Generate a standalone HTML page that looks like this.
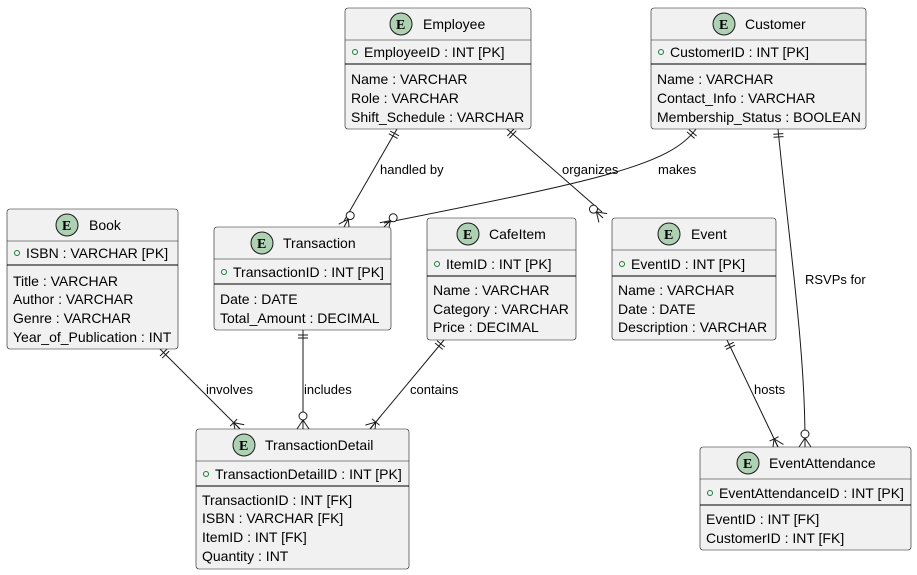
<!DOCTYPE html>
<html><head><meta charset="utf-8"><style>
body{margin:0;background:#fff}
svg{display:block}
text{font-family:"Liberation Sans",sans-serif;font-size:14px;fill:#000}
.box{fill:#F1F1F1;stroke:#181818;stroke-width:0.6}
.hl{stroke:#181818;stroke-width:0.5}
.sep{stroke:#000;stroke-width:1}
.ec{fill:#ADD1B2;stroke:#181818;stroke-width:1}
.et{font-family:"Liberation Serif",serif;font-weight:bold;font-size:14px}
.pk{fill:none;stroke:#1a7a3a;stroke-width:1}
.e{fill:none;stroke:#181818;stroke-width:1}
</style></head><body>
<svg id="s" width="917" height="575" viewBox="0 0 917 575" xmlns="http://www.w3.org/2000/svg">
<g id="edges">
<path class="e" d="M397,129 L344,221"/>
<path class="e" d="M507,129 L602,212"/>
<path class="e" d="M696,129 C670,165 600,180 384,223"/>
<path class="e" d="M778,129 C790,250 805,350 805,441"/>
<path class="e" d="M160,349 L240,429"/>
<path class="e" d="M303,330 L303,429"/>
<path class="e" d="M444,340 L370,429"/>
<path class="e" d="M727,340 L778,447"/>
</g>
<g id="marks"></g>
<text x="380" y="174" style="font-size:13px">handled by</text>
<text x="562" y="174" style="font-size:13px">organizes</text>
<text x="658" y="174" style="font-size:13px">makes</text>
<text x="805" y="284" style="font-size:13px">RSVPs for</text>
<text x="206" y="394" style="font-size:13px">involves</text>
<text x="304" y="394" style="font-size:13px">includes</text>
<text x="410" y="394" style="font-size:13px">contains</text>
<text x="754" y="394" style="font-size:13px">hosts</text>

<rect class="box" x="345" y="8" width="186" height="121" rx="3"/>
<line class="hl" x1="345" y1="40" x2="531" y2="40"/>
<circle class="ec" cx="401" cy="24" r="11"/><text class="et" x="396" y="29">E</text>
<text x="423" y="29">Employee</text>
<circle class="pk" cx="355" cy="52" r="2.5"/><text x="364" y="57">EmployeeID : INT [PK]</text>
<line class="sep" x1="345" y1="64" x2="531" y2="64"/>
<text x="351" y="84">Name : VARCHAR</text>
<text x="351" y="103">Role : VARCHAR</text>
<text x="351" y="122">Shift_Schedule : VARCHAR</text>

<rect class="box" x="651" y="8" width="215" height="121" rx="3"/>
<line class="hl" x1="651" y1="40" x2="866" y2="40"/>
<circle class="ec" cx="724" cy="24" r="11"/><text class="et" x="719" y="29">E</text>
<text x="745" y="29">Customer</text>
<circle class="pk" cx="661" cy="52" r="2.5"/><text x="670" y="57">CustomerID : INT [PK]</text>
<line class="sep" x1="651" y1="64" x2="866" y2="64"/>
<text x="657" y="84">Name : VARCHAR</text>
<text x="657" y="103">Contact_Info : VARCHAR</text>
<text x="657" y="122">Membership_Status : BOOLEAN</text>

<rect class="box" x="7" y="209" width="171" height="140" rx="3"/>
<line class="hl" x1="7" y1="241" x2="178" y2="241"/>
<circle class="ec" cx="67" cy="225" r="11"/><text class="et" x="62" y="230">E</text>
<text x="89" y="230">Book</text>
<circle class="pk" cx="17" cy="253" r="2.5"/><text x="26" y="258">ISBN : VARCHAR [PK]</text>
<line class="sep" x1="7" y1="265" x2="178" y2="265"/>
<text x="13" y="286">Title : VARCHAR</text>
<text x="13" y="304">Author : VARCHAR</text>
<text x="13" y="323">Genre : VARCHAR</text>
<text x="13" y="342">Year_of_Publication : INT</text>

<rect class="box" x="214" y="227" width="177" height="103" rx="3"/>
<line class="hl" x1="214" y1="259" x2="391" y2="259"/>
<circle class="ec" cx="262" cy="243" r="11"/><text class="et" x="257" y="248">E</text>
<text x="283" y="248">Transaction</text>
<circle class="pk" cx="224" cy="272" r="2.5"/><text x="233" y="277">TransactionID : INT [PK]</text>
<line class="sep" x1="214" y1="284" x2="391" y2="284"/>
<text x="220" y="304">Date : DATE</text>
<text x="220" y="323">Total_Amount : DECIMAL</text>

<rect class="box" x="427" y="218" width="149" height="122" rx="3"/>
<line class="hl" x1="427" y1="250" x2="576" y2="250"/>
<circle class="ec" cx="468" cy="234" r="11"/><text class="et" x="463" y="239">E</text>
<text x="489" y="239">CafeItem</text>
<circle class="pk" cx="437" cy="264" r="2.5"/><text x="446" y="269">ItemID : INT [PK]</text>
<line class="sep" x1="427" y1="276" x2="576" y2="276"/>
<text x="433" y="295">Name : VARCHAR</text>
<text x="433" y="314">Category : VARCHAR</text>
<text x="433" y="332">Price : DECIMAL</text>

<rect class="box" x="612" y="218" width="164" height="122" rx="3"/>
<line class="hl" x1="612" y1="250" x2="776" y2="250"/>
<circle class="ec" cx="669" cy="234" r="11"/><text class="et" x="664" y="239">E</text>
<text x="691" y="239">Event</text>
<circle class="pk" cx="622" cy="264" r="2.5"/><text x="631" y="269">EventID : INT [PK]</text>
<line class="sep" x1="612" y1="276" x2="776" y2="276"/>
<text x="618" y="295">Name : VARCHAR</text>
<text x="618" y="314">Date : DATE</text>
<text x="618" y="332">Description : VARCHAR</text>

<rect class="box" x="196" y="429" width="213" height="140" rx="3"/>
<line class="hl" x1="196" y1="461" x2="409" y2="461"/>
<circle class="ec" cx="244" cy="445" r="11"/><text class="et" x="239" y="450">E</text>
<text x="265" y="450">TransactionDetail</text>
<circle class="pk" cx="206" cy="474" r="2.5"/><text x="215" y="479">TransactionDetailID : INT [PK]</text>
<line class="sep" x1="196" y1="486" x2="409" y2="486"/>
<text x="202" y="505">TransactionID : INT [FK]</text>
<text x="202" y="523">ISBN : VARCHAR [FK]</text>
<text x="202" y="542">ItemID : INT [FK]</text>
<text x="202" y="561">Quantity : INT</text>

<rect class="box" x="700" y="447" width="211" height="103" rx="3"/>
<line class="hl" x1="700" y1="479" x2="911" y2="479"/>
<circle class="ec" cx="748" cy="463" r="11"/><text class="et" x="743" y="468">E</text>
<text x="769" y="468">EventAttendance</text>
<circle class="pk" cx="710" cy="493" r="2.5"/><text x="719" y="498">EventAttendanceID : INT [PK]</text>
<line class="sep" x1="700" y1="505" x2="911" y2="505"/>
<text x="706" y="524">EventID : INT [FK]</text>
<text x="706" y="543">CustomerID : INT [FK]</text>
</svg>
<script>
(function(){
var g=document.getElementById('marks'),NS='http://www.w3.org/2000/svg';
function ln(a,b,c,d){var l=document.createElementNS(NS,'line');l.setAttribute('x1',a);l.setAttribute('y1',b);l.setAttribute('x2',c);l.setAttribute('y2',d);l.setAttribute('class','e');g.appendChild(l);}
function ci(x,y){var c=document.createElementNS(NS,'circle');c.setAttribute('cx',x);c.setAttribute('cy',y);c.setAttribute('r',4);c.setAttribute('fill','#fff');c.setAttribute('stroke','#181818');g.appendChild(c);}
function unit(x1,y1,x2,y2){var dx=x2-x1,dy=y2-y1,L=Math.hypot(dx,dy);return [dx/L,dy/L];}
function one(x,y,u){var p=[-u[1],u[0]];for(var k of [5,8]){var cx=x+u[0]*k,cy=y+u[1]*k;ln(cx-p[0]*5,cy-p[1]*5,cx+p[0]*5,cy+p[1]*5);}}
function many(x,y,u,circ){var p=[-u[1],u[0]];var bx=x-u[0]*9,by=y-u[1]*9;
ln(bx,by,x-p[0]*6,y-p[1]*6);ln(bx,by,x+p[0]*6,y+p[1]*6);ln(bx,by,x,y);
if(circ){ci(x-u[0]*13,y-u[1]*13);}else{var cx=x-u[0]*9,cy=y-u[1]*9;ln(cx-p[0]*5,cy-p[1]*5,cx+p[0]*5,cy+p[1]*5);}}
var E=[
[397,129,344,227,397,129,344,227,1],
[507,129,603,218,507,129,603,218,1],
[696,129,384,227,696,129,684,143,1,[390,221,384,227]],
[778,129,805,447,778,129,779,145,1,[805,430,805,447]],
[160,349,240,429,160,349,240,429,0],
[303,330,303,429,303,330,303,429,1],
[444,340,370,429,444,340,370,429,0],
[727,340,778,447,727,340,778,447,0]];
E.forEach(function(e){
var u1=unit(e[4],e[5],e[6],e[7]);one(e[0],e[1],u1);
var u2=e[9]?unit(e[9][0],e[9][1],e[9][2],e[9][3]):unit(e[0],e[1],e[2],e[3]);
many(e[2],e[3],u2,e[8]);});
})();
</script>
</body></html>
